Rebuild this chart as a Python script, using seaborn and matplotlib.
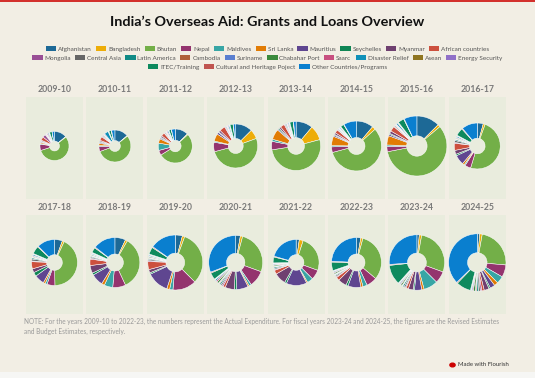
import matplotlib as mpl

mpl.use('Agg')
import numpy as np
import matplotlib.pyplot as plt
from matplotlib.patches import Patch, Rectangle
import seaborn as sns

# ---- data -------------------------------------------------------------
years = ['2009-10', '2010-11', '2011-12', '2012-13', '2013-14', '2014-15',
         '2015-16', '2016-17', '2017-18', '2018-19', '2019-20', '2020-21',
         '2021-22', '2022-23', '2023-24', '2024-25']

# total aid per year (Rs crore)
totals = [1900, 2300, 2600, 4350, 5400, 5600, 8100, 4750,
          4750, 5600, 6800, 6550, 4750, 5600, 6900, 7400]

categories = ['Afghanistan', 'Bangladesh', 'Bhutan', 'Nepal', 'Maldives',
              'Sri Lanka', 'Mauritius', 'Seychelles', 'Myanmar',
              'African countries', 'Mongolia', 'Central Asia', 'Latin America',
              'Cambodia', 'Suriname', 'Chabahar Port', 'Saarc',
              'Disaster Relief', 'Asean', 'Energy Security', 'ITEC/Training',
              'Cultural and Heritage Poject', 'Other Countries/Programs']

# relative share of each year's total, one list per category
afghanistan = [50, 50, 45, 45, 40, 40, 45, 15, 20, 25, 15, 10, 8, 10, 5, 5]
bangladesh = [2, 2, 3, 25, 35, 8, 5, 5, 5, 5, 5, 5, 10, 5, 5, 5]
bhutan = [200, 198, 190, 185, 186, 207, 209, 177, 154, 125, 115, 95, 92, 115, 100, 85]
nepal = [25, 18, 17, 25, 20, 13, 10, 15, 20, 30, 50, 35, 25, 25, 25, 25]
maldives = [3, 4, 25, 3, 5, 3, 3, 3, 5, 20, 7, 5, 15, 10, 30, 15]
sri_lanka = [5, 8, 15, 20, 25, 22, 18, 5, 5, 7, 6, 3, 3, 5, 5, 8]
mauritius = [3, 4, 4, 5, 3, 3, 3, 25, 25, 28, 47, 25, 52, 30, 15, 10]
seychelles = [2, 3, 3, 2, 3, 2, 2, 4, 10, 5, 3, 5, 5, 5, 3, 3]
myanmar = [4, 4, 5, 5, 4, 4, 5, 10, 10, 18, 7, 20, 30, 20, 10, 10]
african = [14, 14, 12, 15, 10, 8, 10, 18, 18, 15, 17, 5, 10, 8, 5, 5]
mongolia = [12, 3, 2, 2, 2, 1, 1, 2, 2, 2, 2, 3, 2, 2, 2, 3]
central_asia = [3, 3, 3, 2, 2, 2, 2, 5, 5, 3, 3, 3, 3, 3, 3, 4]
latin_america = [2, 3, 2, 2, 2, 1, 1, 3, 3, 2, 2, 3, 3, 2, 3, 3]
cambodia = [2, 2, 2, 1, 1, 1, 1, 1, 1, 1, 1, 2, 1, 1, 1, 2]
suriname = [1, 1, 1, 1, 1, 1, 1, 1, 1, 1, 1, 1, 1, 1, 1, 1]
chabahar = [0, 0, 0, 0, 0, 0, 0, 2, 2, 2, 2, 4, 3, 3, 3, 4]
saarc = [4, 3, 3, 2, 2, 1, 1, 2, 2, 1, 1, 3, 2, 2, 2, 2]
disaster_relief = [4, 15, 4, 3, 2, 2, 3, 3, 3, 2, 2, 3, 2, 2, 2, 2]
asean = [2, 2, 1, 1, 1, 1, 1, 1, 1, 1, 1, 1, 1, 1, 1, 1]
energy_security = [2, 1, 1, 1, 1, 1, 1, 1, 1, 1, 1, 1, 1, 1, 1, 1]
itec = [10, 8, 8, 8, 8, 8, 12, 20, 20, 12, 15, 15, 15, 20, 42, 30]
cultural = [1, 2, 1, 1, 1, 1, 1, 2, 2, 2, 2, 2, 2, 2, 2, 2]
other = [9, 12, 13, 6, 6, 30, 25, 40, 45, 52, 55, 111, 74, 87, 94, 134]

shares = [afghanistan, bangladesh, bhutan, nepal, maldives, sri_lanka,
          mauritius, seychelles, myanmar, african, mongolia, central_asia,
          latin_america, cambodia, suriname, chabahar, saarc, disaster_relief,
          asean, energy_security, itec, cultural, other]

palette = sns.color_palette([
    '#1d6996', '#edad08', '#73af48', '#94346e', '#38a6a5', '#e17c05',
    '#5f4690', '#0f8554', '#6f4070', '#cc503e', '#994e95', '#666666',
    '#0f8a85', '#b0603a', '#5a7fd0', '#3a8a3c', '#c85080', '#1090b8',
    '#8f7520', '#9070c8', '#0e8a5e', '#c05550', '#0a7fcf'])

legend_rows = [categories[:10], categories[10:20], categories[20:]]

# ---- figure -----------------------------------------------------------
sns.set_style('white')
plt.rcParams['font.family'] = ['Lato', 'DejaVu Sans']

W, H = 535, 378
bg = '#f2eee4'
panel_bg = '#e9ecdd'
fig = plt.figure(figsize=(W / 100, H / 100), dpi=100, facecolor=bg)


def fx(px):
    return px / W


def fy(py):
    return 1 - py / H


# red top rule and bottom strip
fig.add_artist(Rectangle((0, fy(1.5)), 1, 1.5 / H, transform=fig.transFigure,
                         color='#d3302c', lw=0))
fig.add_artist(Rectangle((0, 0), 1, 6 / H, transform=fig.transFigure,
                         color='#f6f6f4', lw=0))

fig.text(0.5, fy(21.5), 'India\u2019s Overseas Aid: Grants and Loans Overview',
         ha='center', va='center', fontsize=10.4, fontweight='bold',
         color='#111111')

# legend, one centered row at a time
for row, y in zip(legend_rows, [49, 58, 67]):
    handles = [Patch(facecolor=palette[categories.index(c)], edgecolor='none',
                     label=c) for c in row]
    leg = fig.legend(handles=handles, loc='center', ncol=len(row),
                     bbox_to_anchor=(0.5, fy(y)), frameon=False, fontsize=4.6,
                     handlelength=1.6, handleheight=0.9, handletextpad=0.3,
                     columnspacing=0.65, borderpad=0, borderaxespad=0)
    for t in leg.get_texts():
        t.set_color('#555555')

max_total = max(totals)
max_r = 30.0
panel_w = 57.0
col_step = 60.4
rows_y = [(97, 199, 90), (215, 314, 207)]

for i, year in enumerate(years):
    r_i, c_i = divmod(i, 8)
    top, bottom, title_y = rows_y[r_i]
    x0 = 26 + c_i * col_step
    ph = bottom - top
    ax = fig.add_axes([fx(x0), fy(bottom), fx(panel_w), ph / H])
    values = np.array([s[i] for s in shares], dtype=float)
    amounts = values / values.sum() * totals[i]
    radius = max_r * np.sqrt(totals[i] / max_total)
    ax.pie(amounts, radius=radius, startangle=90, counterclock=False,
           colors=palette, center=(0, 2),
           wedgeprops=dict(width=radius * 0.66, edgecolor='white',
                           linewidth=0.35))
    ax.set_xlim(-panel_w / 2, panel_w / 2)
    ax.set_ylim(-ph / 2, ph / 2)
    ax.set_aspect('equal')
    ax.set_frame_on(True)
    ax.set_facecolor(panel_bg)
    for sp in ax.spines.values():
        sp.set_visible(False)
    ax.set_xticks([])
    ax.set_yticks([])
    fig.text(fx(x0 + panel_w / 2), fy(title_y), year, ha='center',
             va='center', fontsize=6.3, fontweight='bold', color='#7a7a7a')

note = ('NOTE: For the years 2009-10 to 2022-23, the numbers represent the '
        'Actual Expenditure. For fiscal years 2023-24 and 2024-25, the figures '
        'are the Revised Estimates\nand Budget Estimates, respectively.')
fig.text(fx(24), fy(318), note, ha='left', va='top', fontsize=4.7,
         color='#9a9a9a', linespacing=1.4)

fig.add_artist(plt.Circle((fx(452.5), fy(365)), 2.6 / W,
                          transform=fig.transFigure, color='#cc0000'))
fig.text(fx(458), fy(365), 'Made with Flourish', ha='left', va='center',
         fontsize=4.3, color='#333333')

fig.savefig('out.png', dpi=100, facecolor=bg)
